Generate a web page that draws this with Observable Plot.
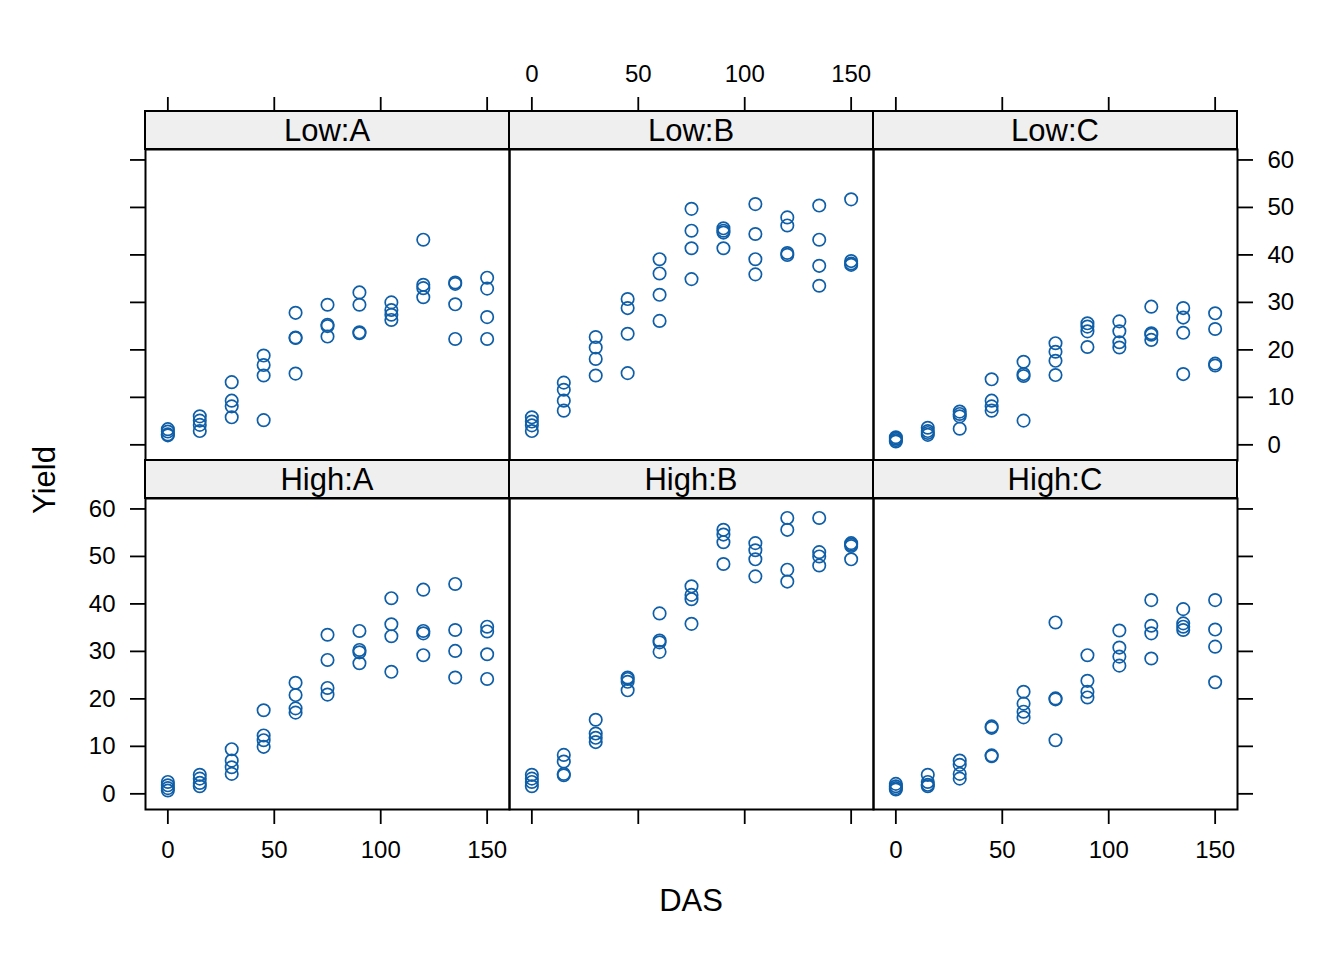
<!DOCTYPE html>
<html>
<head>
<meta charset="utf-8">
<script src="https://cdn.jsdelivr.net/npm/d3@7"></script>
<script src="https://cdn.jsdelivr.net/npm/@observablehq/plot@0.6"></script>
<style>
  html, body { margin: 0; padding: 0; background: #fff; }
  #chart { position: relative; width: 1344px; height: 960px; background: #fff; font-family: "Liberation Sans", Arial, Helvetica, sans-serif; color: #000; overflow: hidden; }
  .panel { position: absolute; }
  .strip { position: absolute; box-sizing: border-box; background: #efefef; border: 2px solid #000; font-size: 31px; text-align: center; line-height: 38px; }
  .title { position: absolute; font-size: 31px; white-space: nowrap; }
</style>
</head>
<body>
<div id="chart"></div>
<script>
// ---- data ----
const das = [0, 15, 30, 45, 60, 75, 90, 105, 120, 135, 150];
const xTicks = [0, 50, 100, 150];
const yTicks = [0, 10, 20, 30, 40, 50, 60];
const rows = ["Low", "High"];
const cols = ["A", "B", "C"];

const lowA = [[3.3,2.8,2.2,2.0],[6.0,5.1,4.2,2.9],[13.2,9.3,8.1,5.8],[18.8,16.8,14.6,5.2],[27.8,22.6,22.5,15.0],[29.5,25.3,25.0,22.8],[32.1,29.5,23.7,23.5],[30.0,28.4,27.4,26.3],[43.2,33.7,33.0,31.1],[34.2,33.9,29.6,22.3],[35.2,32.9,26.9,22.3]];
const lowB = [[5.8,4.9,4.1,2.9],[13.1,11.6,9.3,7.2],[22.7,20.5,18.1,14.6],[30.7,28.8,23.4,15.1],[39.1,36.1,31.6,26.1],[49.7,45.1,41.4,34.9],[45.6,45.1,44.7,41.4],[50.7,44.4,39.1,35.9],[47.9,46.2,40.4,40.0],[50.4,43.2,37.7,33.5],[51.7,38.7,38.2,37.9]];
const lowC = [[1.6,1.3,1.0,0.7],[3.6,2.9,2.5,2.1],[7.0,6.5,6.0,3.4],[13.8,9.3,8.1,7.2],[17.5,14.9,14.5,5.1],[21.4,19.6,17.7,14.7],[25.6,24.9,23.9,20.6],[26.0,23.9,21.6,20.5],[29.1,23.5,23.2,22.1],[28.8,26.8,23.6,14.9],[27.7,24.4,17.1,16.7]];
const highA = [[2.5,1.8,1.2,0.7],[4.0,3.2,2.3,1.6],[9.4,7.0,5.6,4.2],[17.6,12.3,11.3,9.9],[23.4,20.8,18.0,17.1],[33.5,28.2,22.3,20.9],[34.3,30.3,29.8,27.5],[41.2,35.7,33.2,25.7],[43.0,34.3,33.8,29.2],[44.2,34.5,30.1,24.5],[35.2,34.2,29.4,24.2]];
const highB = [[4.0,3.2,2.5,1.6],[8.2,6.8,4.2,3.9],[15.6,12.7,11.8,10.9],[24.5,24.2,23.6,21.8],[38.0,32.3,31.9,29.9],[43.7,41.9,41.0,35.8],[55.6,54.6,53.0,48.4],[52.8,51.3,49.4,45.8],[58.1,55.6,47.2,44.7],[58.1,50.9,50.0,48.1],[52.8,52.5,52.2,49.4]];
const highC = [[2.1,1.6,1.2,0.9],[4.0,2.5,1.9,1.6],[7.0,6.1,4.2,3.2],[14.2,13.9,8.1,7.9],[21.5,19.0,17.3,16.1],[36.1,20.1,19.9,11.3],[29.2,23.8,21.5,20.3],[34.4,30.8,28.9,27.0],[40.8,35.4,33.8,28.5],[38.9,35.9,35.2,34.5],[40.8,34.6,31.0,23.5]];

const panelValues = {
  "Low:A": lowA, "Low:B": lowB, "Low:C": lowC,
  "High:A": highA, "High:B": highB, "High:C": highC
};

// ---- layout ----
const chart = document.getElementById("chart");
const pointColor = "#0f5ea8";
const PW = 364, PH = 311, STRIP = 38, M = 90;
const left0 = 145;
const panelTop = [149, 498];
const xDomain = [-10.5, 160.5];
const yDomain = [-3.3, 62.2];
const tickStyle = {tickSize: 15, fontSize: 24, strokeWidth: 1.8, label: null};

rows.forEach((row, r) => {
  cols.forEach((col, c) => {
    const key = `${row}:${col}`;
    const vals = panelValues[key];
    const data = [];
    vals.forEach((grp, i) => grp.forEach(v => data.push({DAS: das[i], Yield: v})));

    const x0 = left0 + PW * c;
    const y0 = panelTop[r];
    const marks = [];

    if (r === 1) {
      marks.push(Plot.axisX({anchor: "bottom", ticks: xTicks, ...tickStyle, tickPadding: 16,
        tickFormat: c === 1 ? () => "" : d => d}));
    } else {
      marks.push(Plot.axisX({anchor: "top", ticks: xTicks, ...tickStyle, tickPadding: 15, dy: -STRIP,
        tickFormat: c === 1 ? d => d : () => ""}));
    }
    if (c === 0) {
      marks.push(Plot.axisY({anchor: "left", ticks: yTicks, ...tickStyle, tickPadding: 15,
        tickFormat: r === 1 ? d => d : () => ""}));
    }
    if (c === 2) {
      marks.push(Plot.axisY({anchor: "right", ticks: yTicks, ...tickStyle, tickPadding: 15,
        tickFormat: r === 0 ? d => d : () => ""}));
    }
    marks.push(Plot.dot(data, {x: "DAS", y: "Yield", r: 6.2, stroke: pointColor, strokeWidth: 1.7, fill: "none"}));
    marks.push(Plot.frame({stroke: "#000", strokeWidth: 2}));

    const svg = Plot.plot({
      width: PW + 2 * M,
      height: PH + 2 * M,
      marginLeft: M, marginRight: M, marginTop: M, marginBottom: M,
      x: {domain: xDomain, axis: null},
      y: {domain: yDomain, axis: null},
      style: {background: "transparent", color: "#000", fontFamily: "Liberation Sans, Arial, sans-serif", overflow: "visible"},
      marks
    });
    svg.classList.add("panel");
    svg.style.left = (x0 - M) + "px";
    svg.style.top = (y0 - M) + "px";
    svg.style.maxWidth = "none";

    const strip = document.createElement("div");
    strip.className = "strip";
    strip.style.left = (x0 - 1) + "px";
    strip.style.top = (y0 - STRIP - 1) + "px";
    strip.style.width = (PW + 2) + "px";
    strip.style.height = (STRIP + 2) + "px";
    strip.textContent = key;
    chart.appendChild(strip);
    chart.appendChild(svg);
  });
});

const ylab = document.createElement("div");
ylab.className = "title";
ylab.textContent = "Yield";
ylab.style.left = "45px";
ylab.style.top = "480px";
ylab.style.transform = "translate(-50%, -50%) rotate(-90deg)";
chart.appendChild(ylab);

const xlab = document.createElement("div");
xlab.className = "title";
xlab.textContent = "DAS";
xlab.style.left = "691px";
xlab.style.top = "901px";
xlab.style.transform = "translate(-50%, -50%)";
chart.appendChild(xlab);
</script>
</body>
</html>
